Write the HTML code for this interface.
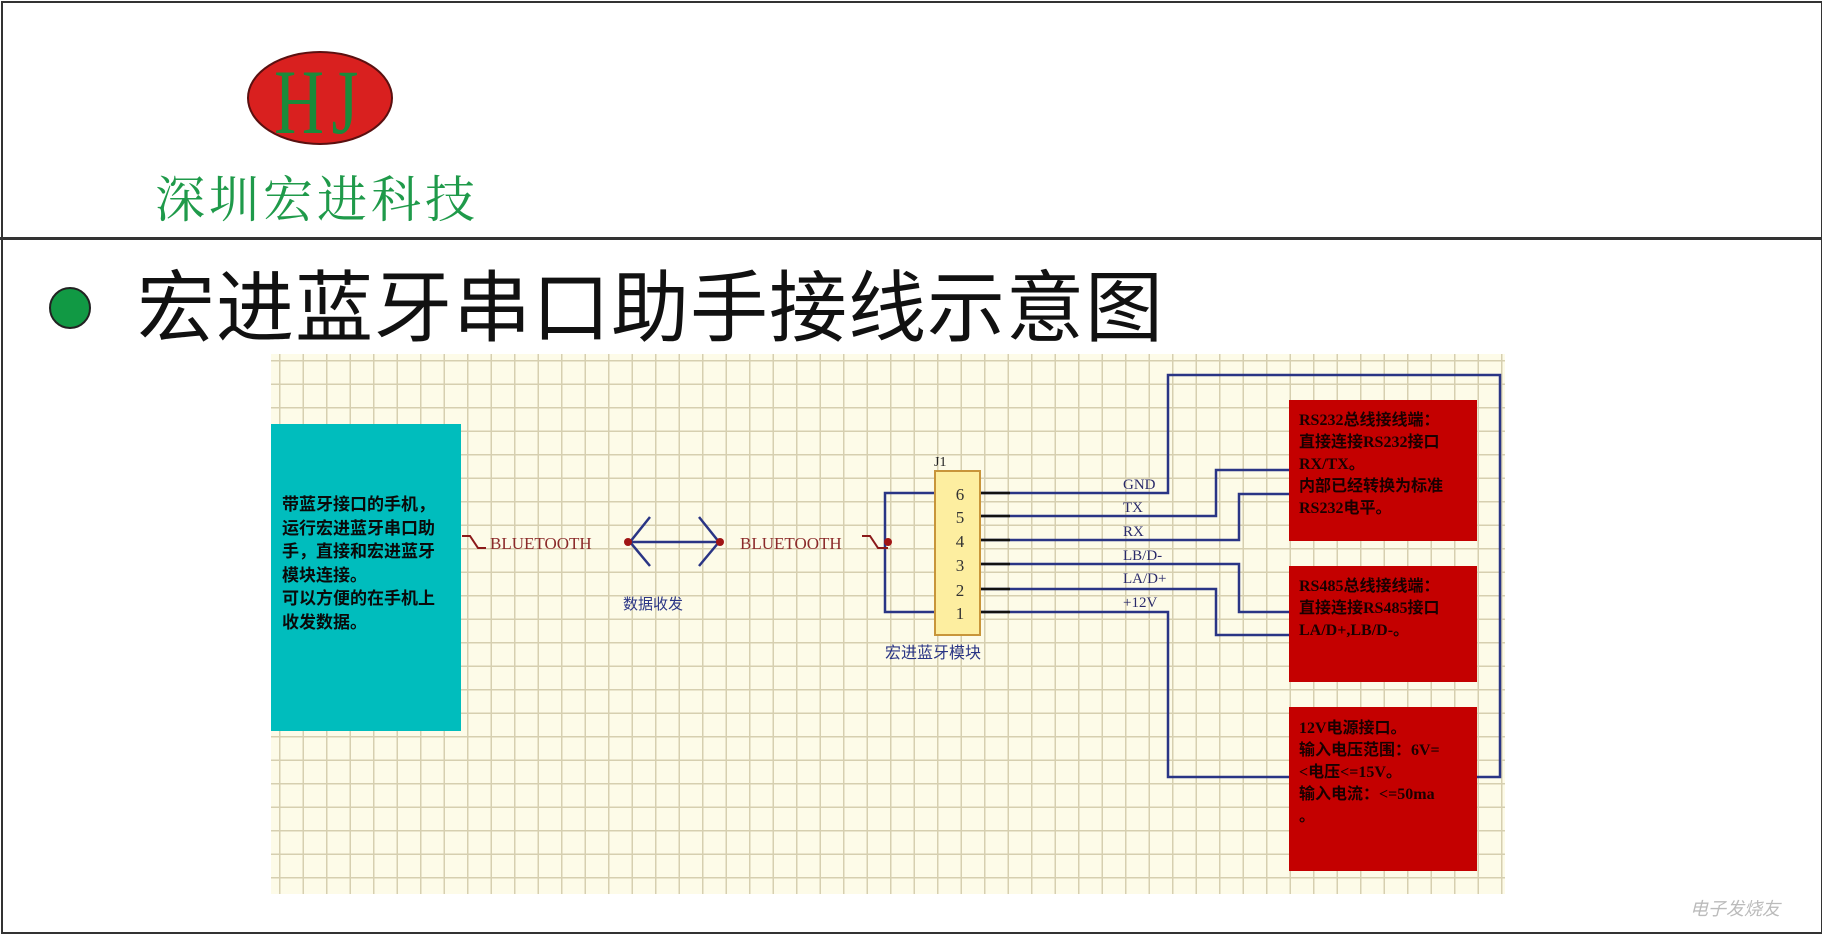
<!DOCTYPE html>
<html><head><meta charset="utf-8"><style>
body{margin:0;width:1822px;height:933px;overflow:hidden;background:#fff;position:relative;font-family:"Liberation Sans","Noto Sans CJK SC",sans-serif}
.a{position:absolute;white-space:nowrap}
.grid{position:absolute;left:271px;top:354px;width:1234px;height:540px;background-color:#fdfbe8;
background-image:linear-gradient(to right,#d6cfb0 1.5px,transparent 1.5px),linear-gradient(to bottom,#d6cfb0 1.5px,transparent 1.5px);
background-size:23.5px 23.5px;background-position:8px 6px}
.cy{font-family:"Liberation Sans","Noto Sans CJK SC",sans-serif;font-size:17px;line-height:23.5px;color:#0a0a0a;font-weight:bold}
.rt{font-size:16px;line-height:22px;color:#1a0000;font-family:"Liberation Serif","Noto Sans CJK SC",sans-serif;font-weight:bold}
</style></head><body>
<div class="a" style="left:1px;top:1px;width:1818px;height:929px;border:2px solid #333"></div>
<div class="a" style="left:0;top:237px;width:1822px;height:3px;background:#333"></div>
<svg class="a" style="left:0;top:0" width="1822" height="240">
<ellipse cx="320" cy="98" rx="72" ry="46" fill="#d9201f" stroke="#5a1010" stroke-width="2"/>
<text x="320" y="133" text-anchor="middle" font-family="Liberation Serif,serif" font-size="92" fill="#1a8a3a" letter-spacing="10" transform="translate(320 0) scale(0.75 1) translate(-320 0)">HJ</text>
</svg>
<div class="a" style="left:155px;top:168px;font-size:50px;color:#1f9a4a;letter-spacing:4px;font-family:'Noto Serif CJK SC',serif;line-height:56px">深圳宏进科技</div>
<svg class="a" style="left:0;top:280px" width="120" height="60"><circle cx="70" cy="28" r="20" fill="#119944" stroke="#222" stroke-width="2"/></svg>
<div class="a" style="left:137px;top:258px;font-size:78px;line-height:100px;color:#111;letter-spacing:1px">宏进蓝牙串口助手接线示意图</div>
<div class="grid"></div>
<div class="a" style="left:271px;top:424px;width:190px;height:307px;background:#00bdbd"></div>
<div class="a cy" style="left:282px;top:493px">带蓝牙接口的手机，<br>运行宏进蓝牙串口助<br>手，直接和宏进蓝牙<br>模块连接。<br>可以方便的在手机上<br>收发数据。</div>
<svg class="a" style="left:0;top:0" width="1822" height="933">
<g stroke="#2a3585" stroke-width="2.5" fill="none">
<line x1="628" y1="542" x2="720" y2="542"/>
<polyline points="650,517 630,542 650,566"/>
<polyline points="699,517 719,542 699,566"/>
<polyline points="936,493 885,493 885,612 936,612"/>
<polyline points="980,493 1168,493 1168,375 1500,375 1500,777 1477,777"/>
<polyline points="980,516 1216,516 1216,470 1289,470"/>
<polyline points="980,540 1239,540 1239,494 1289,494"/>
<polyline points="980,564 1239,564 1239,612 1289,612"/>
<polyline points="980,589 1216,589 1216,635 1289,635"/>
<polyline points="980,612 1168,612 1168,777 1289,777"/>
</g>
<g stroke="#111" stroke-width="2.5"><line x1="980" y1="493" x2="1010" y2="493"/><line x1="980" y1="516" x2="1010" y2="516"/><line x1="980" y1="540" x2="1010" y2="540"/><line x1="980" y1="564" x2="1010" y2="564"/><line x1="980" y1="589" x2="1010" y2="589"/><line x1="980" y1="612" x2="1010" y2="612"/></g>
<g stroke="#8b1a1a" stroke-width="2" fill="none">
<polyline points="462,536 470,536 478,548 486,548"/>
<polyline points="862,536 870,536 878,548 888,548"/>
</g>
<circle cx="628" cy="542" r="4" fill="#a01515"/><circle cx="720" cy="542" r="4" fill="#a01515"/><circle cx="888" cy="542" r="4" fill="#a01515"/>
<text x="490" y="549" font-family="Liberation Serif,serif" font-size="17" fill="#8b2a2a">BLUETOOTH</text>
<text x="740" y="549" font-family="Liberation Serif,serif" font-size="17" fill="#8b2a2a">BLUETOOTH</text>
<rect x="935" y="471" width="45" height="164" fill="#fdeea0" stroke="#c8953a" stroke-width="2"/>
<g font-family="Liberation Serif,serif" font-size="17" fill="#333" text-anchor="middle">
<text x="960" y="500">6</text><text x="960" y="523">5</text><text x="960" y="547">4</text><text x="960" y="571">3</text><text x="960" y="596">2</text><text x="960" y="619">1</text></g>
<text x="934" y="466" font-family="Liberation Serif,serif" font-size="14" fill="#222">J1</text>
<g font-family="Liberation Serif,serif" font-size="15" fill="#2a2a6a">
<text x="1123" y="489">GND</text><text x="1123" y="512">TX</text><text x="1123" y="536">RX</text><text x="1123" y="560">LB/D-</text><text x="1123" y="583">LA/D+</text><text x="1123" y="607">+12V</text></g>
<text x="623" y="609" font-family="Noto Sans CJK SC,sans-serif" font-size="15" fill="#2a3585">数据收发</text>
<text x="885" y="658" font-family="Noto Sans CJK SC,sans-serif" font-size="16" fill="#2a3585">宏进蓝牙模块</text>
<rect x="1289" y="400" width="188" height="141" fill="#c40000"/>
<rect x="1289" y="566" width="188" height="116" fill="#c40000"/>
<rect x="1289" y="707" width="188" height="164" fill="#c40000"/>
</svg>
<div class="a rt" style="left:1299px;top:410px">RS232总线接线端：<br>直接连接RS232接口<br>RX/TX。<br>内部已经转换为标准<br>RS232电平。</div>
<div class="a rt" style="left:1299px;top:576px">RS485总线接线端：<br>直接连接RS485接口<br>LA/D+,LB/D-。</div>
<div class="a rt" style="left:1299px;top:718px">12V电源接口。<br>输入电压范围：6V=<br>&lt;电压&lt;=15V。<br>输入电流：&lt;=50ma<br>。</div>
<div class="a" style="left:1690px;top:895px;font-size:18px;color:#bbb;font-style:italic">电子发烧友</div>
</body></html>
